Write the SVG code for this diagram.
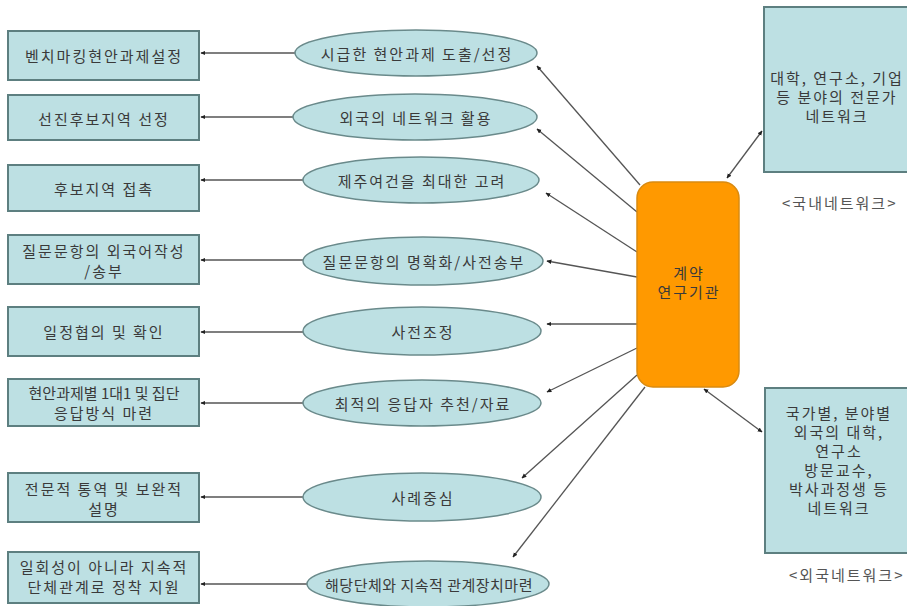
<svg xmlns="http://www.w3.org/2000/svg" width="907" height="606" viewBox="0 0 907 606">
<defs>
<style>
.bx{fill:#bde0e3;stroke:#5d7f80;stroke-width:2}
.el{fill:#bde0e3;stroke:#6a8a8b;stroke-width:1.5}
.ctr{fill:#ff9900;stroke:#d98a10;stroke-width:1.5}
.t{font-family:"Noto Sans CJK KR","Noto Sans",sans-serif;font-size:15px;fill:#3a3a3a;text-anchor:middle;dominant-baseline:central;letter-spacing:2px}
.cap{font-family:"Noto Sans CJK KR","Noto Sans",sans-serif;font-size:15px;fill:#555;dominant-baseline:central;letter-spacing:2px}
.ln{stroke:#555;stroke-width:1.3;fill:none}
</style>
<marker id="ah" viewBox="0 0 8 8" refX="7" refY="4" markerWidth="5" markerHeight="5" orient="auto-start-reverse" markerUnits="userSpaceOnUse">
<path d="M0,0.5 L8,4 L0,7.5 z" fill="#222"/>
</marker>
</defs>
<rect width="907" height="606" fill="#ffffff"/>

<g id="connectors">
<line class="ln" x1="300" y1="53" x2="201" y2="53" marker-end="url(#ah)"/>
<line class="ln" x1="293" y1="117" x2="201" y2="117" marker-end="url(#ah)"/>
<line class="ln" x1="303" y1="180" x2="201" y2="180" marker-end="url(#ah)"/>
<line class="ln" x1="303" y1="260" x2="201" y2="260" marker-end="url(#ah)"/>
<line class="ln" x1="303" y1="332" x2="201" y2="332" marker-end="url(#ah)"/>
<line class="ln" x1="303" y1="403" x2="201" y2="403" marker-end="url(#ah)"/>
<line class="ln" x1="303" y1="497" x2="201" y2="497" marker-end="url(#ah)"/>
<line class="ln" x1="307" y1="584" x2="201" y2="584" marker-end="url(#ah)"/>

<line class="ln" x1="640" y1="185" x2="537" y2="66" marker-end="url(#ah)"/>
<line class="ln" x1="637" y1="212" x2="537" y2="129" marker-end="url(#ah)"/>
<line class="ln" x1="637" y1="252" x2="546" y2="193" marker-end="url(#ah)"/>
<line class="ln" x1="637" y1="277" x2="547" y2="261" marker-end="url(#ah)"/>
<line class="ln" x1="637" y1="324" x2="547" y2="324" marker-end="url(#ah)"/>
<line class="ln" x1="637" y1="348" x2="547" y2="392" marker-end="url(#ah)"/>
<line class="ln" x1="637" y1="375" x2="522" y2="478" marker-end="url(#ah)"/>
<line class="ln" x1="645" y1="387" x2="513" y2="557" marker-end="url(#ah)"/>

<line class="ln" x1="727" y1="178" x2="762" y2="131" marker-start="url(#ah)" marker-end="url(#ah)"/>
<line class="ln" x1="704" y1="389" x2="762" y2="432" marker-start="url(#ah)" marker-end="url(#ah)"/>
</g>

<g id="box1"><rect class="bx" x="8" y="31" width="191" height="49"/><text class="t" x="104" y="55">벤치마킹현안과제설정</text></g>
<g id="box2"><rect class="bx" x="8" y="95" width="191" height="45"/><text class="t" x="104" y="118">선진후보지역 선정</text></g>
<g id="box3"><rect class="bx" x="8" y="165" width="191" height="46"/><text class="t" x="104" y="188">후보지역 접촉</text></g>
<g id="box4"><rect class="bx" x="8" y="235" width="191" height="49"/><text class="t" x="104" y="250">질문문항의 외국어작성</text><text class="t" x="104" y="270">/송부</text></g>
<g id="box5"><rect class="bx" x="8" y="307" width="191" height="49"/><text class="t" x="104" y="331">일정협의 및 확인</text></g>
<g id="box6"><rect class="bx" x="8" y="379" width="191" height="47"/><text class="t" x="104" y="392" style="letter-spacing:0">현안과제별 1대1 및 집단</text><text class="t" x="104" y="412">응답방식 마련</text></g>
<g id="box7"><rect class="bx" x="8" y="473" width="191" height="49"/><text class="t" x="104" y="488">전문적 통역 및 보완적</text><text class="t" x="104" y="508">설명</text></g>
<g id="box8"><rect class="bx" x="8" y="552" width="191" height="51"/><text class="t" x="104" y="566">일회성이 아니라 지속적</text><text class="t" x="104" y="586">단체관계로 정착 지원</text></g>

<g id="ell1"><ellipse class="el" cx="416" cy="53" rx="121" ry="23"/><text class="t" x="417" y="53">시급한 현안과제 도출/선정</text></g>
<g id="ell2"><ellipse class="el" cx="415" cy="117" rx="122" ry="23"/><text class="t" x="416" y="117">외국의 네트워크 활용</text></g>
<g id="ell3"><ellipse class="el" cx="421" cy="180" rx="118" ry="23"/><text class="t" x="422" y="180">제주여건을 최대한 고려</text></g>
<g id="ell4"><ellipse class="el" cx="423" cy="261" rx="120" ry="24"/><text class="t" x="424" y="261">질문문항의 명확화/사전송부</text></g>
<g id="ell5"><ellipse class="el" cx="422" cy="331" rx="119" ry="24"/><text class="t" x="423" y="331">사전조정</text></g>
<g id="ell6"><ellipse class="el" cx="422" cy="403" rx="119" ry="23"/><text class="t" x="423" y="403">최적의 응답자 추천/자료</text></g>
<g id="ell7"><ellipse class="el" cx="422" cy="497" rx="119" ry="24"/><text class="t" x="423" y="497">사례중심</text></g>
<g id="ell8"><ellipse class="el" cx="428" cy="584" rx="121" ry="23"/><text class="t" x="429" y="584" style="letter-spacing:0.5px">해당단체와 지속적 관계장치마련</text></g>

<g id="center"><rect class="ctr" x="637" y="182" width="102" height="205" rx="16" ry="16"/><text class="t" x="689" y="272">계약</text><text class="t" x="689" y="291">연구기관</text></g>

<g id="domestic"><rect class="bx" x="764" y="7" width="150" height="165"/><text class="t" x="837" y="77">대학, 연구소, 기업</text><text class="t" x="837" y="96">등 분야의 전문가</text><text class="t" x="837" y="115">네트워크</text><text class="cap" x="782" y="202">&lt;국내네트워크&gt;</text></g>

<g id="foreign"><rect class="bx" x="765" y="388" width="150" height="165"/><text class="t" x="839" y="412">국가별, 분야별</text><text class="t" x="839" y="431">외국의 대학,</text><text class="t" x="839" y="450">연구소</text><text class="t" x="839" y="469">방문교수,</text><text class="t" x="839" y="488">박사과정생 등</text><text class="t" x="839" y="507">네트워크</text><text class="cap" x="789" y="574">&lt;외국네트워크&gt;</text></g>
</svg>
